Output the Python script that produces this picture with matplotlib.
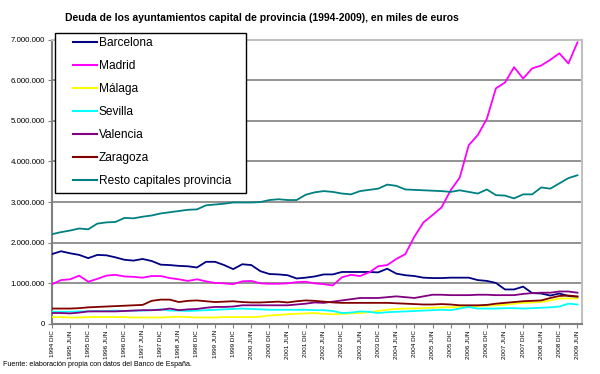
import matplotlib
matplotlib.use("Agg")
import matplotlib.pyplot as plt
from matplotlib.patches import Rectangle
from matplotlib.ticker import FuncFormatter

plt.rcParams['font.family'] = ['Liberation Sans', 'DejaVu Sans']

# quarterly data, 1994 DIC .. 2009 JUN, millions of euros
barcelona = [1.72, 1.79, 1.74, 1.70, 1.62, 1.70, 1.69, 1.64, 1.58, 1.56,
             1.60, 1.55, 1.46, 1.45, 1.43, 1.42, 1.39, 1.53, 1.53, 1.45,
             1.35, 1.47, 1.45, 1.30, 1.23, 1.22, 1.20, 1.12, 1.14, 1.17,
             1.22, 1.22, 1.28, 1.28, 1.28, 1.28, 1.27, 1.36, 1.24, 1.20,
             1.18, 1.14, 1.13, 1.13, 1.14, 1.14, 1.14, 1.08, 1.06, 1.01,
             0.85, 0.85, 0.92, 0.76, 0.75, 0.70, 0.75, 0.69, 0.66]
madrid = [0.98, 1.08, 1.10, 1.19, 1.04, 1.11, 1.19, 1.21, 1.17, 1.16,
          1.14, 1.18, 1.18, 1.13, 1.10, 1.06, 1.10, 1.05, 1.01, 1.00,
          0.98, 1.05, 1.06, 1.00, 0.99, 0.99, 1.00, 1.03, 1.04, 1.00,
          0.98, 0.95, 1.15, 1.21, 1.18, 1.27, 1.42, 1.45, 1.60, 1.72,
          2.15, 2.50, 2.68, 2.87, 3.29, 3.60, 4.40, 4.65, 5.05, 5.80,
          5.94, 6.32, 6.04, 6.29, 6.36, 6.50, 6.66, 6.41, 6.93]
malaga = [0.17, 0.17, 0.16, 0.16, 0.17, 0.17, 0.17, 0.17, 0.17, 0.16,
          0.16, 0.16, 0.16, 0.17, 0.18, 0.17, 0.16, 0.16, 0.16, 0.17,
          0.17, 0.17, 0.17, 0.18, 0.21, 0.22, 0.24, 0.25, 0.26, 0.27,
          0.25, 0.24, 0.25, 0.26, 0.27, 0.29, 0.32, 0.35, 0.37, 0.38,
          0.38, 0.39, 0.40, 0.41, 0.41, 0.42, 0.43, 0.44, 0.45, 0.46,
          0.47, 0.50, 0.52, 0.53, 0.54, 0.58, 0.63, 0.63, 0.63]
sevilla = [0.30, 0.30, 0.30, 0.31, 0.31, 0.32, 0.32, 0.33, 0.32, 0.33,
           0.33, 0.34, 0.36, 0.33, 0.33, 0.32, 0.33, 0.34, 0.35, 0.36,
           0.37, 0.38, 0.37, 0.36, 0.35, 0.35, 0.35, 0.35, 0.35, 0.34,
           0.34, 0.32, 0.27, 0.28, 0.31, 0.30, 0.27, 0.29, 0.30, 0.31,
           0.32, 0.33, 0.34, 0.35, 0.34, 0.38, 0.42, 0.38, 0.38, 0.38,
           0.39, 0.39, 0.38, 0.39, 0.40, 0.41, 0.43, 0.50, 0.48]
valencia = [0.27, 0.27, 0.26, 0.28, 0.31, 0.31, 0.31, 0.31, 0.32, 0.33,
            0.34, 0.34, 0.35, 0.38, 0.34, 0.36, 0.37, 0.40, 0.42, 0.42,
            0.43, 0.46, 0.46, 0.46, 0.46, 0.46, 0.46, 0.48, 0.50, 0.53,
            0.52, 0.55, 0.58, 0.61, 0.64, 0.64, 0.64, 0.66, 0.68, 0.66,
            0.64, 0.68, 0.72, 0.72, 0.71, 0.71, 0.71, 0.72, 0.72, 0.71,
            0.71, 0.71, 0.74, 0.76, 0.77, 0.77, 0.80, 0.80, 0.77]
zaragoza = [0.38, 0.38, 0.38, 0.39, 0.41, 0.42, 0.43, 0.44, 0.45, 0.46,
            0.47, 0.57, 0.60, 0.60, 0.54, 0.57, 0.58, 0.56, 0.54, 0.55,
            0.56, 0.54, 0.53, 0.53, 0.54, 0.55, 0.53, 0.56, 0.58, 0.57,
            0.55, 0.53, 0.52, 0.52, 0.52, 0.52, 0.52, 0.52, 0.51, 0.50,
            0.49, 0.48, 0.48, 0.49, 0.48, 0.46, 0.46, 0.46, 0.47, 0.50,
            0.52, 0.54, 0.56, 0.57, 0.58, 0.64, 0.69, 0.70, 0.68]
resto = [2.21, 2.26, 2.30, 2.35, 2.33, 2.47, 2.50, 2.51, 2.61, 2.60,
         2.64, 2.67, 2.72, 2.75, 2.78, 2.81, 2.82, 2.92, 2.94, 2.96,
         2.99, 2.99, 2.99, 3.00, 3.05, 3.07, 3.05, 3.05, 3.18, 3.24,
         3.27, 3.25, 3.21, 3.19, 3.27, 3.30, 3.33, 3.43, 3.40, 3.31,
         3.30, 3.29, 3.28, 3.27, 3.25, 3.29, 3.25, 3.21, 3.31, 3.17,
         3.16, 3.09, 3.19, 3.19, 3.36, 3.33, 3.46, 3.59, 3.66]

names = ['Barcelona', 'Madrid', 'Málaga', 'Sevilla', 'Valencia', 'Zaragoza',
         'Resto capitales provincia']
colors = ['#000080', '#ff00ff', '#ffff00', '#00ffff', '#800080', '#800000',
          '#008080']
series = [barcelona, madrid, malaga, sevilla, valencia, zaragoza, resto]

years = list(range(1994, 2010))
tick_labels = []
for y in years:
    if y > 1994:
        tick_labels.append(str(y) + ' JUN')
    if y < 2009:
        tick_labels.append(str(y) + ' DIC')

fig = plt.figure(figsize=(6, 3.74), dpi=100)
ax = fig.add_axes([52 / 600, 1 - 324 / 374, 530 / 600, (324 - 39.5) / 374])

x = list(range(len(resto)))
handles = []
for name, col, vals in zip(names, colors, series):
    h, = ax.plot(x, [v * 1e6 for v in vals], color=col, lw=1.3, label=name,
                 zorder=3)
    handles.append(h)

ax.set_xlim(0, 58.5)
ax.set_ylim(0, 7e6)
ax.set_yticks([i * 1e6 for i in range(8)])
ax.yaxis.set_major_formatter(FuncFormatter(
    lambda v, p: '0' if v == 0 else format(int(v), ',').replace(',', '.')))
ax.set_xticks(range(0, 59, 2))
ax.set_xticklabels(tick_labels, rotation=90, fontsize=4.6)
ax.tick_params(axis='y', labelsize=5.7, length=3, color='#808080', pad=2)
ax.tick_params(axis='x', length=3, color='#808080', pad=1.5)
ax.grid(axis='y', color='#808080', lw=1.2, zorder=1)
ax.set_axisbelow(True)
for s in ['left', 'bottom']:
    ax.spines[s].set_color('#808080')
    ax.spines[s].set_linewidth(1.5)
for s in ['top', 'right']:
    ax.spines[s].set_color('#c0c0c0')
    ax.spines[s].set_linewidth(1.5)

fig.text(262 / 600, 1 - 18 / 374, 'Deuda de los ayuntamientos capital de '
         'provincia (1994-2009), en miles de euros', ha='center',
         va='center', fontsize=7.5, fontweight='bold')
fig.text(3 / 600, 1 - 364 / 374,
         'Fuente: elaboración propia con datos del Banco de España.',
         ha='left', va='center', fontsize=5.1)

box = Rectangle((55 / 600, 1 - 193 / 374), 191 / 600, 160 / 374,
                transform=fig.transFigure, facecolor='white',
                edgecolor='black', lw=1, zorder=4, clip_on=False)
ax.add_patch(box)
leg = ax.legend(handles=handles, loc='upper left',
                bbox_to_anchor=(73 / 600, 1 - 37 / 374),
                bbox_transform=fig.transFigure, frameon=False,
                fontsize=8.6, labelspacing=0.92, handlelength=2.05,
                handletextpad=0.1, borderpad=0, borderaxespad=0)
leg.set_zorder(5)
for line in leg.get_lines():
    line.set_linewidth(1.5)

fig.savefig('out.png', dpi=100)
